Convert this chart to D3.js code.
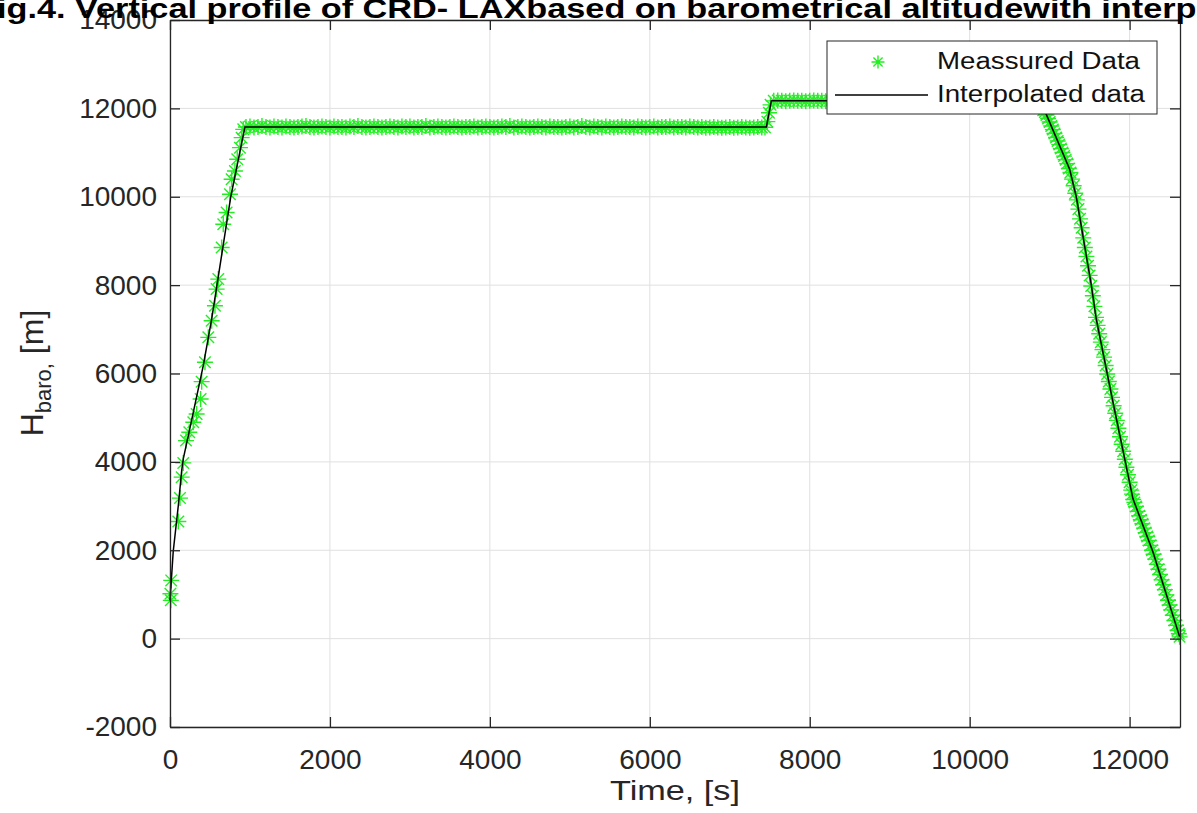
<!DOCTYPE html>
<html lang="en">

<head>
    <meta charset="UTF-8">
    <title>Vertical profile of CRD- LAX</title>
    <script src="https://d3js.org/d3.v7.min.js"></script>
    <style>
        body { margin: 0; background: #fff; }
        text { font-family: "Liberation Sans", Arial, sans-serif; }
    </style>
</head>

<body>
    <svg width="1197" height="813"></svg>
    <script>
        // Measured data (green asterisks), read off the picture
        // climb
        const climbTime = [10, 5, 15, 104, 125, 146, 166, 200, 241, 291, 333, 383, 396, 437, 479, 521,
            562, 583, 604, 646, 666, 708, 750, 771, 812, 841, 875, 896, 916];
        const climbAlt = [866, 1017, 1318, 2652, 3180, 3654, 3977, 4482, 4670, 4896, 5085, 5424, 5815, 6253, 6818, 7193,
            7533, 7910, 8136, 8852, 9379, 9643, 10056, 10395, 10583, 10847, 11111, 11337, 11525];

        // first cruise level
        const cruise1Time = [
            950, 1000, 1050, 1100, 1150, 1200, 1250, 1300, 1350, 1400,
            1450, 1500, 1550, 1600, 1650, 1700, 1750, 1800, 1850, 1900,
            1950, 2000, 2050, 2100, 2150, 2200, 2250, 2300, 2350, 2400,
            2450, 2500, 2550, 2600, 2650, 2700, 2750, 2800, 2850, 2900,
            2950, 3000, 3050, 3100, 3150, 3200, 3250, 3300, 3350, 3400,
            3450, 3500, 3550, 3600, 3650, 3700, 3750, 3800, 3850, 3900,
            3950, 4000, 4050, 4100, 4150, 4200, 4250, 4300, 4350, 4400,
            4450, 4500, 4550, 4600, 4650, 4700, 4750, 4800, 4850, 4900,
            4950, 5000, 5050, 5100, 5150, 5200, 5250, 5300, 5350, 5400,
            5450, 5500, 5550, 5600, 5650, 5700, 5750, 5800, 5850, 5900,
            5950, 6000, 6050, 6100, 6150, 6200, 6250, 6300, 6350, 6400,
            6450, 6500, 6550, 6600, 6650, 6700, 6750, 6800, 6850, 6900,
            6950, 7000, 7050, 7100, 7150, 7200, 7250, 7300, 7350, 7400,
            7440];
        const cruise1Alt = [
            11580, 11590, 11570, 11580, 11600, 11580, 11570, 11590, 11580, 11570,
            11590, 11580, 11570, 11580, 11590, 11600, 11580, 11570, 11580, 11590,
            11580, 11570, 11590, 11580, 11580, 11570, 11590, 11580, 11600, 11580,
            11570, 11580, 11590, 11580, 11570, 11580, 11590, 11580, 11570, 11590,
            11580, 11590, 11570, 11580, 11580, 11600, 11570, 11580, 11590, 11580,
            11570, 11580, 11590, 11580, 11570, 11580, 11580, 11590, 11570, 11580,
            11590, 11580, 11570, 11580, 11590, 11580, 11600, 11570, 11580, 11590,
            11580, 11570, 11580, 11590, 11580, 11570, 11590, 11580, 11580, 11570,
            11580, 11590, 11570, 11580, 11600, 11580, 11570, 11590, 11580, 11570,
            11590, 11580, 11570, 11580, 11590, 11580, 11580, 11570, 11590, 11580,
            11570, 11580, 11590, 11570, 11580, 11580, 11590, 11570, 11580, 11580,
            11570, 11590, 11580, 11570, 11580, 11560, 11570, 11580, 11570, 11560,
            11570, 11580, 11560, 11570, 11580, 11570, 11560, 11570, 11580, 11570,
            11570];

        // step climb + second cruise level
        const cruise2Time = [
            7470, 7490, 7510,
            7550, 7600, 7650, 7700, 7750, 7800, 7850, 7900, 7950, 8000,
            8050, 8100, 8150, 8200, 8250, 8300, 8350, 8400, 8450, 8500,
            8550, 8600, 8650, 8700, 8750, 8800, 8850, 8900, 8950, 9000,
            9050, 9100, 9150, 9200, 9250, 9300, 9350, 9400, 9450, 9500,
            9550, 9600, 9650, 9700, 9750, 9800, 9850, 9900, 9950, 10000,
            10050, 10100, 10150, 10200, 10250, 10300, 10350, 10400, 10450, 10500,
            10550, 10600, 10650, 10700, 10750, 10800, 10850];
        const cruise2Alt = [
            11700, 11900, 12080,
            12170, 12180, 12170, 12160, 12170, 12180, 12170, 12170, 12160, 12170,
            12180, 12170, 12170, 12160, 12170, 12180, 12170, 12170, 12160, 12170,
            12180, 12170, 12170, 12160, 12170, 12180, 12170, 12170, 12160, 12170,
            12180, 12170, 12170, 12160, 12170, 12180, 12170, 12170, 12160, 12170,
            12180, 12170, 12170, 12160, 12170, 12180, 12170, 12170, 12160, 12170,
            12180, 12170, 12170, 12160, 12170, 12180, 12170, 12170, 12160, 12170,
            12170, 12160, 12170, 12170, 12170, 12160, 12170];

        // descent
        const descentTime = [
            10900, 10920, 10940, 10960, 10980, 11000, 11020, 11040, 11060, 11080,
            11100, 11120, 11140, 11160, 11180, 11200, 11220, 11240, 11260, 11280,
            11300, 11320, 11340, 11360, 11380, 11400, 11420, 11440, 11460, 11480,
            11500, 11520, 11540, 11560, 11580, 11600, 11620, 11640, 11660, 11680,
            11700, 11720, 11740, 11760, 11780, 11800, 11820, 11840, 11860, 11880,
            11900, 11920, 11940, 11960, 11980, 12000, 12020, 12030, 12045, 12060,
            12080, 12100, 12120, 12140, 12160, 12180, 12200, 12220, 12240, 12260,
            12280, 12300, 12320, 12340, 12360, 12380, 12400, 12420, 12440, 12460,
            12480, 12500, 12520, 12540, 12560, 12580, 12600, 12615, 12625];
        const descentAlt = [
            12030, 11960, 11920, 11850, 11770, 11690, 11600, 11520, 11430, 11340,
            11260, 11180, 11090, 11000, 10920, 10840, 10750, 10640, 10550, 10400,
            10250, 10080, 9930, 9720, 9500, 9300, 9070, 8850, 8650, 8440,
            8220, 7980, 7760, 7520, 7270, 7090, 6900, 6710, 6540, 6370,
            6180, 5990, 5820, 5650, 5460, 5270, 5100, 4940, 4760, 4570,
            4400, 4240, 4060, 3880, 3710, 3540, 3360, 3270, 3150, 3080,
            2990, 2880, 2780, 2690, 2600, 2500, 2400, 2310, 2220, 2110,
            2000, 1910, 1800, 1680, 1570, 1450, 1330, 1220, 1110, 990,
            870, 760, 650, 530, 410, 300, 190, 110, 40];

        // Interpolated data (black line) knots
        const interpTime = [0, 40, 104, 146, 166, 229, 416, 521, 760, 937, 7458, 7520, 10850, 10958, 11250, 11333,
            11521, 11583, 11792, 12042, 12292, 12625];
        const interpAlt = [866, 1966, 3013, 3800, 4068, 4595, 6177, 7232, 10000, 11580, 11580, 12170, 12170, 11864, 10621, 10000,
            8000, 7232, 5349, 3164, 1959, 45];

        // axis ticks
        const xTicks = [0, 2000, 4000, 6000, 8000, 10000, 12000];
        const yTicks = [-2000, 0, 2000, 4000, 6000, 8000, 10000, 12000, 14000];

        const titleText = "Fig.4. Vertical profile of CRD- LAXbased on barometrical altitudewith interpolation";
        const legendLabels = ["Meassured Data", "Interpolated data"];

        // build point list
        const measured = [];
        [[climbTime, climbAlt], [cruise1Time, cruise1Alt], [cruise2Time, cruise2Alt], [descentTime, descentAlt]]
            .forEach(([ts, hs]) => ts.forEach((t, i) => measured.push({ t: t, h: hs[i] })));
        const interp = interpTime.map((t, i) => ({ t: t, h: interpAlt[i] }));

        const svg = d3.select("svg");
        const margin = { top: 20, right: 17, bottom: 86, left: 170 };
        const width = svg.attr("width") - margin.left - margin.right;
        const height = svg.attr("height") - margin.top - margin.bottom;

        const g = svg.append("g")
            .attr("transform", `translate(${margin.left},${margin.top})`);

        const x = d3.scaleLinear().domain([0, 12630]).range([0, width]);
        const y = d3.scaleLinear().domain([-2000, 14000]).range([height, 0]);

        // grid
        g.append("g")
            .selectAll("line")
            .data(xTicks)
            .join("line")
            .attr("x1", d => x(d)).attr("x2", d => x(d))
            .attr("y1", 0).attr("y2", height)
            .attr("stroke", "#e0e0e0");
        g.append("g")
            .selectAll("line")
            .data(yTicks)
            .join("line")
            .attr("x1", 0).attr("x2", width)
            .attr("y1", d => y(d)).attr("y2", d => y(d))
            .attr("stroke", "#e0e0e0");

        // interpolated line
        const line = d3.line().x(d => x(d.t)).y(d => y(d.h));
        // asterisk marker
        const r = 8, k = r * 0.72;
        const star = `M${-r},0L${r},0M0,${-r}L0,${r}M${-k},${-k}L${k},${k}M${-k},${k}L${k},${-k}`;

        g.append("g")
            .selectAll("path")
            .data(measured)
            .join("path")
            .attr("transform", d => `translate(${x(d.t)},${y(d.h)})`)
            .attr("d", star)
            .attr("stroke", "#22ee22")
            .attr("stroke-width", 1.4)
            .attr("fill", "none");

        g.append("path")
            .datum(interp)
            .attr("d", line)
            .attr("fill", "none")
            .attr("stroke", "#000")
            .attr("stroke-width", 1.5);

        // axes (MATLAB style box, ticks inside)
        const tickLen = 10;
        const fmt = d => String(d);
        const axB = g.append("g")
            .attr("transform", `translate(0,${height})`)
            .call(d3.axisBottom(x).tickValues(xTicks).tickFormat(fmt).tickSizeInner(-tickLen).tickSizeOuter(0).tickPadding(22));
        const axT = g.append("g")
            .call(d3.axisTop(x).tickValues(xTicks).tickSizeInner(-tickLen).tickSizeOuter(0).tickFormat(""));
        const axL = g.append("g")
            .call(d3.axisLeft(y).tickValues(yTicks).tickFormat(fmt).tickSizeInner(-tickLen).tickSizeOuter(0).tickPadding(13));
        const axR = g.append("g")
            .attr("transform", `translate(${width},0)`)
            .call(d3.axisRight(y).tickValues(yTicks).tickSizeInner(-tickLen).tickSizeOuter(0).tickFormat(""));

        [axB, axT, axL, axR].forEach(a => {
            a.select(".domain").attr("stroke", "#262626").attr("stroke-width", 1.3);
            a.selectAll(".tick line").attr("stroke", "#262626").attr("stroke-width", 1.3);
            a.selectAll(".tick text")
                .attr("fill", "#262626")
                .attr("font-size", "28px")
                .attr("font-family", "'Liberation Sans', Arial, sans-serif");
        });
        axB.selectAll(".tick text").attr("dy", "0.71em");

        // axis labels
        svg.append("text")
            .attr("x", 675)
            .attr("y", 800)
            .attr("text-anchor", "middle")
            .attr("font-size", "27px")
            .attr("fill", "#262626")
            .attr("textLength", 130)
            .attr("lengthAdjust", "spacingAndGlyphs")
            .text("Time, [s]");

        const yl = svg.append("text")
            .attr("transform", "translate(43,373) rotate(-90)")
            .attr("text-anchor", "middle")
            .attr("font-size", "32px")
            .attr("fill", "#262626");
        yl.append("tspan").text("H");
        yl.append("tspan").attr("font-size", "22px").attr("dy", 8).text("baro,");
        yl.append("tspan").attr("dy", -8).text(" [m]");

        // title (clipped by the page edges in the reference)
        const title = svg.append("text")
            .attr("y", 18)
            .attr("font-size", "27px")
            .attr("font-weight", "bold")
            .attr("fill", "#000")
            .text(titleText);
        const tn = title.node();
        const wF = tn.getSubStringLength(0, 1);
        const wEnd = tn.getSubStringLength(0, titleText.indexOf("interp") + 6);
        const sx = 1200 / (wEnd - wF);
        title.attr("transform", `translate(${-3 - wF * sx},0) scale(${sx},1)`);

        // legend
        const lg = svg.append("g");
        lg.append("rect")
            .attr("x", 827).attr("y", 41)
            .attr("width", 330).attr("height", 73)
            .attr("fill", "#fff")
            .attr("stroke", "#262626")
            .attr("stroke-width", 1);
        lg.append("path")
            .attr("transform", "translate(878,62)")
            .attr("d", "M-6.5,0L6.5,0M0,-6.5L0,6.5M-4.6,-4.6L4.6,4.6M-4.6,4.6L4.6,-4.6")
            .attr("stroke", "#22ee22")
            .attr("stroke-width", 1.4);
        lg.append("line")
            .attr("x1", 835).attr("x2", 928)
            .attr("y1", 95).attr("y2", 95)
            .attr("stroke", "#000")
            .attr("stroke-width", 1.5);
        lg.selectAll("text.lab")
            .data(legendLabels)
            .join("text")
            .attr("class", "lab")
            .attr("x", 937)
            .attr("y", (d, i) => 69 + i * 33)
            .attr("font-size", "23px")
            .attr("fill", "#111")
            .attr("textLength", (d, i) => i === 0 ? 203 : 208)
            .attr("lengthAdjust", "spacingAndGlyphs")
            .text(d => d);
    </script>
</body>

</html>
